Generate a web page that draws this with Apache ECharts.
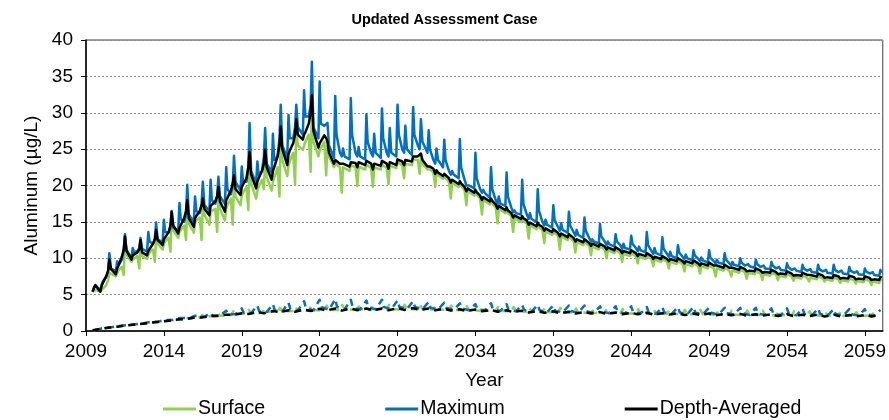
<!DOCTYPE html>
<html>
<head>
<meta charset="utf-8">
<script src="https://cdn.jsdelivr.net/npm/echarts@6/dist/echarts.min.js"></script>
<style>
html,body{margin:0;padding:0;background:#fff}
#chart{width:889px;height:420px}
</style>
</head>
<body>
<div id="chart"></div>
<script>
// Axis ticks
const yearTicks = [2009, 2014, 2019, 2024, 2029, 2034, 2039, 2044, 2049, 2054, 2059];
const valueTicks = [0, 5, 10, 15, 20, 25, 30, 35, 40];

// Rows are calendar years starting at firstYear; each row holds the
// concentration (µg/L) at the listed fractions of that year.
const firstYear = 2009;
const solidPhases = [0, 0.08, 0.3, 0.42, 0.5, 0.6, 0.92];

const maximum = [
  [null, null, null, 5.4, 5.8, 6.3, 5.6],
  [6.3, 6.8, 7.5, 8.2, 10.7, 8.6, 8.2],
  [9.6, 9.0, 9.8, 11.0, 13.3, 11.2, 10.0],
  [11.4, 10.8, 11.0, 11.4, 12.8, 11.3, 10.9],
  [13.6, 12.3, 12.0, 12.6, 14.9, 12.6, 12.2],
  [15.3, 13.6, 13.5, 14.2, 16.5, 14.2, 13.8],
  [17.6, 15.4, 15.0, 16.0, 20.1, 16.0, 15.0],
  [18.5, 16.5, 16.2, 17.5, 20.5, 17.3, 16.5],
  [20.8, 18.0, 17.5, 18.6, 21.2, 18.5, 17.5],
  [22.5, 19.5, 18.8, 20.0, 24.1, 20.5, 19.3],
  [22.6, 20.5, 20.5, 22.5, 28.6, 22.0, 20.3],
  [23.3, 21.5, 22.0, 24.0, 27.9, 23.0, 21.8],
  [27.1, 23.5, 24.0, 26.5, 31.1, 25.5, 23.8],
  [29.7, 26.5, 26.5, 28.0, 31.1, 28.0, 27.0],
  [33.1, 29.5, 29.5, 31.0, 37.0, 28.0, 26.5],
  [34.3, 28.5, 28.2, 28.2, 28.6, 25.5, 23.8],
  [32.3, 27.0, 24.5, 24.0, 25.1, 24.0, 23.6],
  [32.0, 27.0, 24.5, 24.0, 25.3, 24.0, 23.6],
  [29.8, 26.0, 24.5, 24.0, 27.1, 24.5, 23.8],
  [30.6, 26.5, 24.5, 24.0, 27.9, 24.5, 24.0],
  [31.1, 27.0, 25.0, 24.5, 28.2, 25.0, 24.2],
  [30.8, 27.0, 25.5, 25.0, 29.1, 26.0, 24.5],
  [27.6, 25.0, 23.5, 23.0, 25.1, 23.5, 22.5],
  [26.3, 23.5, 22.0, 21.5, 22.0, 21.5, 21.0],
  [26.4, 22.5, 20.8, 20.0, 20.1, 20.0, 19.6],
  [24.5, 21.0, 19.5, 19.0, 19.4, 19.0, 18.3],
  [22.5, 19.5, 18.0, 17.5, 18.5, 17.5, 17.2],
  [21.8, 18.5, 17.0, 16.3, 16.6, 16.2, 16.0],
  [20.8, 17.5, 16.0, 15.4, 16.2, 15.4, 15.0],
  [19.5, 16.5, 15.0, 14.5, 15.3, 14.6, 14.2],
  [17.3, 15.3, 14.3, 13.8, 14.8, 13.9, 13.5],
  [16.4, 14.5, 13.6, 13.1, 13.9, 13.2, 12.8],
  [15.6, 13.8, 12.8, 12.3, 12.6, 12.3, 12.0],
  [14.7, 13.0, 12.3, 11.8, 12.3, 11.9, 11.6],
  [13.3, 12.3, 11.8, 11.3, 12.0, 11.4, 11.2],
  [13.1, 12.0, 11.4, 11.0, 11.6, 11.1, 10.8],
  [13.6, 11.8, 11.0, 10.6, 11.4, 10.7, 10.4],
  [12.9, 11.3, 10.6, 10.2, 10.9, 10.3, 10.0],
  [11.8, 10.8, 10.2, 9.9, 10.5, 10.0, 9.7],
  [11.1, 10.4, 9.9, 9.6, 10.1, 9.7, 9.4],
  [11.1, 10.1, 9.6, 9.3, 9.8, 9.4, 9.2],
  [10.7, 9.8, 9.3, 9.0, 9.5, 9.1, 8.9],
  [10.0, 9.4, 9.0, 8.8, 9.2, 8.9, 8.7],
  [9.8, 9.2, 8.8, 8.6, 9.0, 8.6, 8.5],
  [9.5, 9.0, 8.6, 8.4, 8.8, 8.4, 8.3],
  [9.3, 8.8, 8.4, 8.2, 8.6, 8.3, 8.1],
  [9.1, 8.6, 8.3, 8.1, 8.5, 8.1, 8.0],
  [9.1, 8.5, 8.2, 8.0, 8.4, 8.0, 7.9],
  [9.1, 8.4, 8.1, 7.9, 8.3, 7.9, 7.8],
  [8.8, 8.3, 8.0, 7.8, 8.2, 7.8, 7.7],
  [8.6, 8.2, 7.9, 7.7, 8.1, 7.7, 7.6],
  [8.4, 8.0, null, null, null, null, null]
];

const depthAveraged = [
  [null, null, null, 5.4, 5.9, 6.3, 5.4],
  [6.2, 6.6, 7.5, 8.3, 9.8, 8.5, 7.8],
  [8.6, 9.0, 10.2, 11.2, 13.0, 11.0, 9.8],
  [10.4, 10.4, 10.8, 11.2, 12.5, 10.8, 10.4],
  [11.0, 11.2, 12.0, 12.6, 13.9, 12.5, 11.8],
  [12.6, 12.8, 13.6, 14.5, 16.4, 14.5, 13.4],
  [14.2, 14.4, 15.5, 16.5, 18.0, 15.5, 14.3],
  [15.5, 15.8, 16.5, 17.2, 18.2, 16.8, 15.9],
  [17.2, 17.2, 17.8, 18.5, 19.8, 17.8, 16.4],
  [18.0, 18.3, 19.3, 20.3, 21.4, 19.5, 18.7],
  [19.8, 20.0, 21.0, 22.5, 24.6, 21.5, 19.6],
  [20.5, 21.0, 22.0, 23.0, 24.9, 22.5, 20.8],
  [22.0, 22.5, 24.0, 25.5, 28.1, 25.0, 22.8],
  [24.3, 24.8, 25.8, 27.0, 29.1, 27.0, 26.3],
  [27.0, 27.3, 28.5, 30.0, 32.4, 27.5, 25.2],
  [25.8, 25.8, 26.9, 26.5, 26.0, 24.5, 23.0],
  [23.5, 23.3, 23.0, 22.8, 23.0, 22.8, 22.6],
  [23.2, 23.0, 23.1, 22.5, 23.2, 23.0, 22.8],
  [23.4, 23.2, 23.0, 22.2, 23.0, 22.8, 22.7],
  [23.4, 23.2, 23.0, 22.3, 23.2, 23.0, 22.8],
  [23.6, 23.4, 23.3, 22.8, 23.5, 23.4, 23.3],
  [24.0, 23.8, 24.0, 23.8, 24.4, 23.5, 22.6],
  [22.8, 22.6, 22.3, 21.6, 22.1, 21.8, 21.3],
  [21.6, 21.4, 21.0, 20.4, 20.8, 20.6, 20.2],
  [20.6, 20.3, 19.8, 19.2, 19.6, 19.4, 19.0],
  [19.4, 19.1, 18.6, 18.0, 18.4, 18.2, 17.8],
  [18.2, 17.9, 17.4, 16.8, 17.2, 17.0, 16.6],
  [17.0, 16.6, 16.2, 15.6, 15.9, 15.8, 15.4],
  [15.8, 15.5, 15.2, 14.6, 14.9, 14.8, 14.4],
  [14.9, 14.6, 14.3, 13.8, 14.1, 13.9, 13.6],
  [14.0, 13.8, 13.5, 13.0, 13.4, 13.2, 12.9],
  [13.3, 13.1, 12.8, 12.3, 12.6, 12.5, 12.2],
  [12.6, 12.4, 12.1, 11.7, 12.0, 11.9, 11.6],
  [12.0, 11.8, 11.6, 11.2, 11.5, 11.4, 11.1],
  [11.5, 11.3, 11.1, 10.7, 11.0, 10.9, 10.7],
  [11.1, 10.9, 10.7, 10.3, 10.6, 10.5, 10.3],
  [10.7, 10.5, 10.3, 9.9, 10.2, 10.1, 9.9],
  [10.3, 10.1, 9.9, 9.6, 9.9, 9.8, 9.6],
  [10.0, 9.8, 9.6, 9.3, 9.6, 9.5, 9.3],
  [9.7, 9.5, 9.3, 9.0, 9.3, 9.2, 9.0],
  [9.4, 9.2, 9.0, 8.8, 9.0, 8.9, 8.7],
  [9.1, 8.9, 8.7, 8.5, 8.7, 8.6, 8.4],
  [8.8, 8.6, 8.5, 8.2, 8.4, 8.3, 8.2],
  [8.6, 8.4, 8.3, 8.0, 8.2, 8.1, 8.0],
  [8.4, 8.2, 8.1, 7.8, 8.0, 7.9, 7.8],
  [8.2, 8.0, 7.9, 7.6, 7.8, 7.7, 7.6],
  [8.0, 7.9, 7.7, 7.5, 7.7, 7.6, 7.5],
  [7.9, 7.8, 7.6, 7.3, 7.5, 7.4, 7.3],
  [7.7, 7.6, 7.5, 7.2, 7.4, 7.3, 7.2],
  [7.6, 7.5, 7.4, 7.1, 7.3, 7.2, 7.1],
  [7.5, 7.4, 7.3, 7.0, 7.2, 7.1, 7.0],
  [7.4, 7.3, null, null, null, null, null]
];

const surface = [
  [null, null, null, 5.4, 5.6, 5.6, 5.5],
  [5.6, 5.8, 6.3, 7.0, 8.0, 7.8, 7.5],
  [8.0, 8.3, 8.8, 7.7, 12.0, 10.5, 9.5],
  [9.8, 10.0, 10.3, 8.6, 11.8, 10.3, 9.9],
  [10.5, 10.8, 11.2, 9.5, 13.0, 12.0, 11.2],
  [12.0, 12.3, 12.8, 10.9, 15.5, 13.8, 12.8],
  [13.6, 13.9, 14.5, 12.5, 17.0, 14.8, 13.5],
  [14.8, 15.2, 15.6, 12.5, 17.2, 16.0, 14.6],
  [16.2, 16.5, 16.8, 13.6, 18.8, 16.8, 15.2],
  [16.8, 17.3, 18.2, 14.6, 20.3, 18.5, 17.3],
  [18.6, 19.0, 19.8, 16.6, 23.5, 20.3, 18.2],
  [19.2, 19.8, 20.8, 19.5, 23.8, 21.2, 19.3],
  [20.5, 21.0, 22.5, 18.5, 26.8, 23.5, 21.3],
  [22.8, 23.3, 24.5, 20.1, 27.8, 25.5, 24.9],
  [25.5, 26.0, 27.0, 21.9, 30.5, 26.0, 24.0],
  [24.8, 25.0, 26.0, 21.4, 25.5, 24.0, 22.5],
  [23.0, 22.8, 22.5, 19.0, 22.5, 22.3, 22.0],
  [22.8, 22.6, 22.5, 19.9, 22.6, 22.4, 22.2],
  [22.9, 22.7, 22.4, 19.8, 22.5, 22.3, 22.2],
  [23.0, 22.7, 22.5, 20.2, 22.7, 22.5, 22.4],
  [23.2, 23.0, 22.8, 21.0, 23.0, 22.9, 22.8],
  [23.6, 23.4, 23.5, 21.6, 23.9, 23.0, 22.2],
  [22.4, 22.2, 21.8, 19.8, 21.7, 21.4, 20.9],
  [21.2, 21.0, 20.5, 18.2, 20.4, 20.2, 19.8],
  [20.2, 19.9, 19.4, 17.3, 19.2, 19.0, 18.6],
  [19.0, 18.7, 18.2, 16.0, 18.0, 17.8, 17.4],
  [17.8, 17.5, 17.0, 14.8, 16.8, 16.6, 16.2],
  [16.6, 16.2, 15.8, 13.6, 15.5, 15.4, 15.0],
  [15.4, 15.1, 14.8, 12.7, 14.5, 14.4, 14.0],
  [14.5, 14.2, 13.9, 12.1, 13.7, 13.5, 13.2],
  [13.6, 13.4, 13.1, 11.2, 13.0, 12.8, 12.5],
  [12.9, 12.7, 12.4, 10.8, 12.2, 12.1, 11.8],
  [12.2, 12.0, 11.7, 10.4, 11.6, 11.5, 11.2],
  [11.6, 11.4, 11.2, 10.0, 11.1, 11.0, 10.7],
  [11.1, 10.9, 10.7, 9.5, 10.6, 10.5, 10.3],
  [10.7, 10.5, 10.3, 9.3, 10.2, 10.1, 9.9],
  [10.3, 10.1, 9.9, 8.9, 9.8, 9.7, 9.5],
  [9.9, 9.7, 9.5, 8.6, 9.5, 9.4, 9.2],
  [9.6, 9.4, 9.2, 8.2, 9.2, 9.1, 8.9],
  [9.3, 9.1, 8.9, 7.9, 8.9, 8.8, 8.6],
  [9.0, 8.8, 8.6, 7.5, 8.6, 8.5, 8.3],
  [8.7, 8.5, 8.3, 7.5, 8.3, 8.2, 8.0],
  [8.4, 8.2, 8.1, 7.2, 8.0, 7.9, 7.8],
  [8.2, 8.0, 7.9, 7.0, 7.8, 7.7, 7.6],
  [8.0, 7.8, 7.7, 7.0, 7.6, 7.5, 7.4],
  [7.8, 7.6, 7.5, 6.9, 7.4, 7.3, 7.2],
  [7.6, 7.5, 7.3, 6.8, 7.3, 7.2, 7.1],
  [7.5, 7.4, 7.2, 6.8, 7.1, 7.0, 6.9],
  [7.3, 7.2, 7.1, 6.6, 7.0, 6.9, 6.8],
  [7.2, 7.1, 7.0, 6.5, 6.9, 6.8, 6.7],
  [7.1, 7.0, 6.9, 6.3, 6.8, 6.7, 6.6],
  [7.0, 6.9, null, null, null, null, null]
];

// Lower (dashed) profiles, sampled more coarsely
const depthLowPhases = [0, 0.42];
const depthAveragedLow = [
  [null, 0.1], [0.3, 0.45], [0.6, 0.72], [0.85, 0.95], [1.1, 1.2],
  [1.35, 1.45], [1.6, 1.65], [1.85, 1.85], [2.05, 2.05], [2.25, 2.2],
  [2.45, 2.35], [2.6, 2.45], [2.75, 2.6], [2.85, 2.65], [2.95, 2.75],
  [3.05, 2.8], [3.1, 2.8], [3.1, 2.85], [3.1, 2.85], [3.1, 2.85],
  [3.15, 2.9], [3.15, 2.9], [3.1, 2.85], [3.05, 2.8], [3.0, 2.75],
  [2.95, 2.7], [2.9, 2.65], [2.85, 2.6], [2.8, 2.55], [2.75, 2.5],
  [2.7, 2.45], [2.65, 2.4], [2.6, 2.4], [2.6, 2.35], [2.55, 2.3],
  [2.5, 2.3], [2.5, 2.25], [2.45, 2.25], [2.45, 2.2], [2.4, 2.2],
  [2.4, 2.15], [2.35, 2.15], [2.35, 2.1], [2.3, 2.1], [2.3, 2.05],
  [2.3, 2.05], [2.25, 2.05], [2.25, 2.0], [2.25, 2.0], [2.2, 2.0],
  [2.2, 2.0], [2.2, null]
];

const maxLowPhases = [0, 0.12, 0.6];
const maximumLow = [
  [null, null, 0.15], [0.35, 0.35, 0.5], [0.65, 0.65, 0.8], [0.9, 0.9, 1.0], [1.2, 1.15, 1.25],
  [1.5, 1.4, 1.5], [1.8, 1.65, 1.75], [2.1, 1.9, 1.95], [2.5, 2.1, 2.15], [2.8, 2.3, 2.3],
  [3.1, 2.5, 2.45], [3.5, 2.7, 2.6], [3.7, 2.85, 2.7], [3.9, 3.0, 2.8], [4.1, 3.1, 2.85],
  [4.3, 3.3, 2.9], [4.4, 3.3, 2.95], [4.3, 3.3, 2.95], [4.2, 3.3, 2.95], [4.3, 3.3, 3.0],
  [4.2, 3.3, 3.0], [4.1, 3.3, 3.0], [4.0, 3.2, 2.95], [3.9, 3.2, 2.9], [3.8, 3.1, 2.85],
  [3.7, 3.0, 2.8], [3.8, 3.0, 2.75], [3.7, 2.95, 2.7], [3.6, 2.9, 2.65], [3.6, 2.85, 2.6],
  [3.5, 2.8, 2.55], [3.5, 2.75, 2.5], [3.5, 2.7, 2.5], [3.4, 2.7, 2.45], [3.4, 2.65, 2.4],
  [3.4, 2.6, 2.4], [3.3, 2.6, 2.35], [3.3, 2.55, 2.35], [3.3, 2.55, 2.3], [3.3, 2.5, 2.3],
  [3.2, 2.5, 2.25], [3.2, 2.45, 2.25], [3.2, 2.45, 2.2], [3.2, 2.4, 2.2], [3.1, 2.4, 2.15],
  [3.1, 2.4, 2.15], [3.1, 2.35, 2.15], [3.1, 2.35, 2.1], [3.0, 2.35, 2.1], [3.0, 2.3, 2.1],
  [3.0, 2.3, 2.1], [2.9, null, null]
];

const surfLowPhases = [0.3, 0.45, 0.6];
const surfaceLow = [
  [null, 0.1, 0.15], [0.4, 0.45, 0.5], [0.7, 0.75, 0.78], [0.92, 1.0, 1.0], [1.15, 1.3, 1.25],
  [1.4, 1.6, 1.5], [1.6, 1.9, 1.7], [1.85, 2.2, 1.95], [2.05, 2.5, 2.1], [2.2, 2.7, 2.3],
  [2.4, 2.9, 2.45], [2.5, 3.0, 2.6], [2.65, 3.2, 2.7], [2.75, 3.3, 2.8], [2.8, 3.4, 2.85],
  [2.85, 3.5, 2.9], [2.9, 3.6, 3.0], [2.9, 3.6, 3.0], [2.9, 3.6, 3.0], [2.95, 3.6, 3.0],
  [2.95, 3.6, 3.0], [3.0, 3.6, 3.0], [2.95, 3.5, 2.95], [2.9, 3.5, 2.9], [2.85, 3.4, 2.85],
  [2.8, 3.4, 2.8], [2.75, 3.3, 2.75], [2.7, 3.3, 2.7], [2.65, 3.2, 2.65], [2.6, 3.2, 2.6],
  [2.55, 3.2, 2.55], [2.5, 3.1, 2.5], [2.5, 3.1, 2.5], [2.45, 3.1, 2.45], [2.4, 3.0, 2.4],
  [2.4, 3.0, 2.4], [2.35, 3.0, 2.35], [2.35, 2.9, 2.35], [2.3, 2.9, 2.3], [2.3, 2.9, 2.3],
  [2.25, 2.9, 2.25], [2.25, 2.8, 2.25], [2.2, 2.8, 2.2], [2.2, 2.8, 2.2], [2.15, 2.8, 2.15],
  [2.15, 2.7, 2.15], [2.15, 2.7, 2.15], [2.1, 2.7, 2.1], [2.1, 2.7, 2.1], [2.1, 2.6, 2.1],
  [2.1, 2.6, 2.1], [null, null, null]
];

const GREEN = '#92D050';
const BLUE = '#0070C0';
const BLACK = '#000000';
const FONT = 'Liberation Sans, Arial, sans-serif';

function toPoints(rows, phases) {
  const pts = [];
  rows.forEach((row, i) => {
    row.forEach((v, j) => {
      if (v !== null) pts.push([firstYear + i + phases[j], v]);
    });
  });
  return pts;
}

function lineSeries(name, rows, phases, color, dashed) {
  return {
    name: name,
    type: 'line',
    data: toPoints(rows, phases),
    showSymbol: false,
    symbol: 'none',
    smooth: false,
    lineStyle: {
      color: color,
      width: 2.5,
      type: dashed ? [7, 5] : 'solid',
      join: 'round',
      cap: 'butt'
    },
    itemStyle: { color: color },
    silent: true
  };
}

const chart = echarts.init(document.getElementById('chart'), null, { renderer: 'canvas' });

chart.setOption({
  animation: false,
  backgroundColor: '#ffffff',
  title: {
    text: 'Updated Assessment Case',
    left: 'center',
    top: 7,
    textStyle: { fontFamily: FONT, fontSize: 14.5, fontWeight: 'bold', color: '#000' }
  },
  legend: {
    data: ['Surface', 'Maximum', 'Depth-Averaged'],
    left: 158,
    top: 394,
    itemWidth: 33,
    itemHeight: 3,
    itemGap: 120,
    icon: 'rect',
    textStyle: { fontFamily: FONT, fontSize: 19.5, color: '#000', padding: [0, 0, 0, -3] }
  },
  grid: {
    left: 86,
    right: 4,
    top: 40,
    bottom: 89,
    show: true,
    borderColor: '#404040',
    borderWidth: 1,
    containLabel: false
  },
  xAxis: {
    type: 'value',
    min: 2009,
    max: 2060.15,
    interval: 5,
    name: 'Year',
    nameLocation: 'middle',
    nameGap: 40,
    nameTextStyle: { fontFamily: FONT, fontSize: 19, color: '#000' },
    axisLine: { show: true, onZero: false, lineStyle: { color: '#000', width: 1.5 } },
    axisTick: { show: true, length: 5, inside: false, customValues: yearTicks, lineStyle: { color: '#000' } },
    axisLabel: { customValues: yearTicks, fontFamily: FONT, fontSize: 19, color: '#000', margin: 11,
      formatter: v => String(v) },
    splitLine: { show: false }
  },
  yAxis: {
    type: 'value',
    min: 0,
    max: 40,
    interval: 5,
    name: 'Aluminum (µg/L)',
    nameLocation: 'middle',
    nameGap: 44,
    nameTextStyle: { fontFamily: FONT, fontSize: 19, color: '#000' },
    axisLine: { show: true, lineStyle: { color: '#000', width: 1.5 } },
    axisTick: { show: true, length: 5, lineStyle: { color: '#000' } },
    axisLabel: { fontFamily: FONT, fontSize: 19, color: '#000', margin: 13,
      formatter: v => (valueTicks.indexOf(v) >= 0 ? String(v) : '') },
    splitLine: { show: true, lineStyle: { color: '#8c8c8c', type: [2, 2], width: 1 } }
  },
  series: [
    lineSeries('Surface low', surfaceLow, surfLowPhases, GREEN, true),
    lineSeries('Maximum low', maximumLow, maxLowPhases, BLUE, true),
    lineSeries('Depth-Averaged low', depthAveragedLow, depthLowPhases, BLACK, true),
    lineSeries('Surface', surface, solidPhases, GREEN, false),
    lineSeries('Maximum', maximum, solidPhases, BLUE, false),
    lineSeries('Depth-Averaged', depthAveraged, solidPhases, BLACK, false)
  ]
});
</script>
</body>
</html>
